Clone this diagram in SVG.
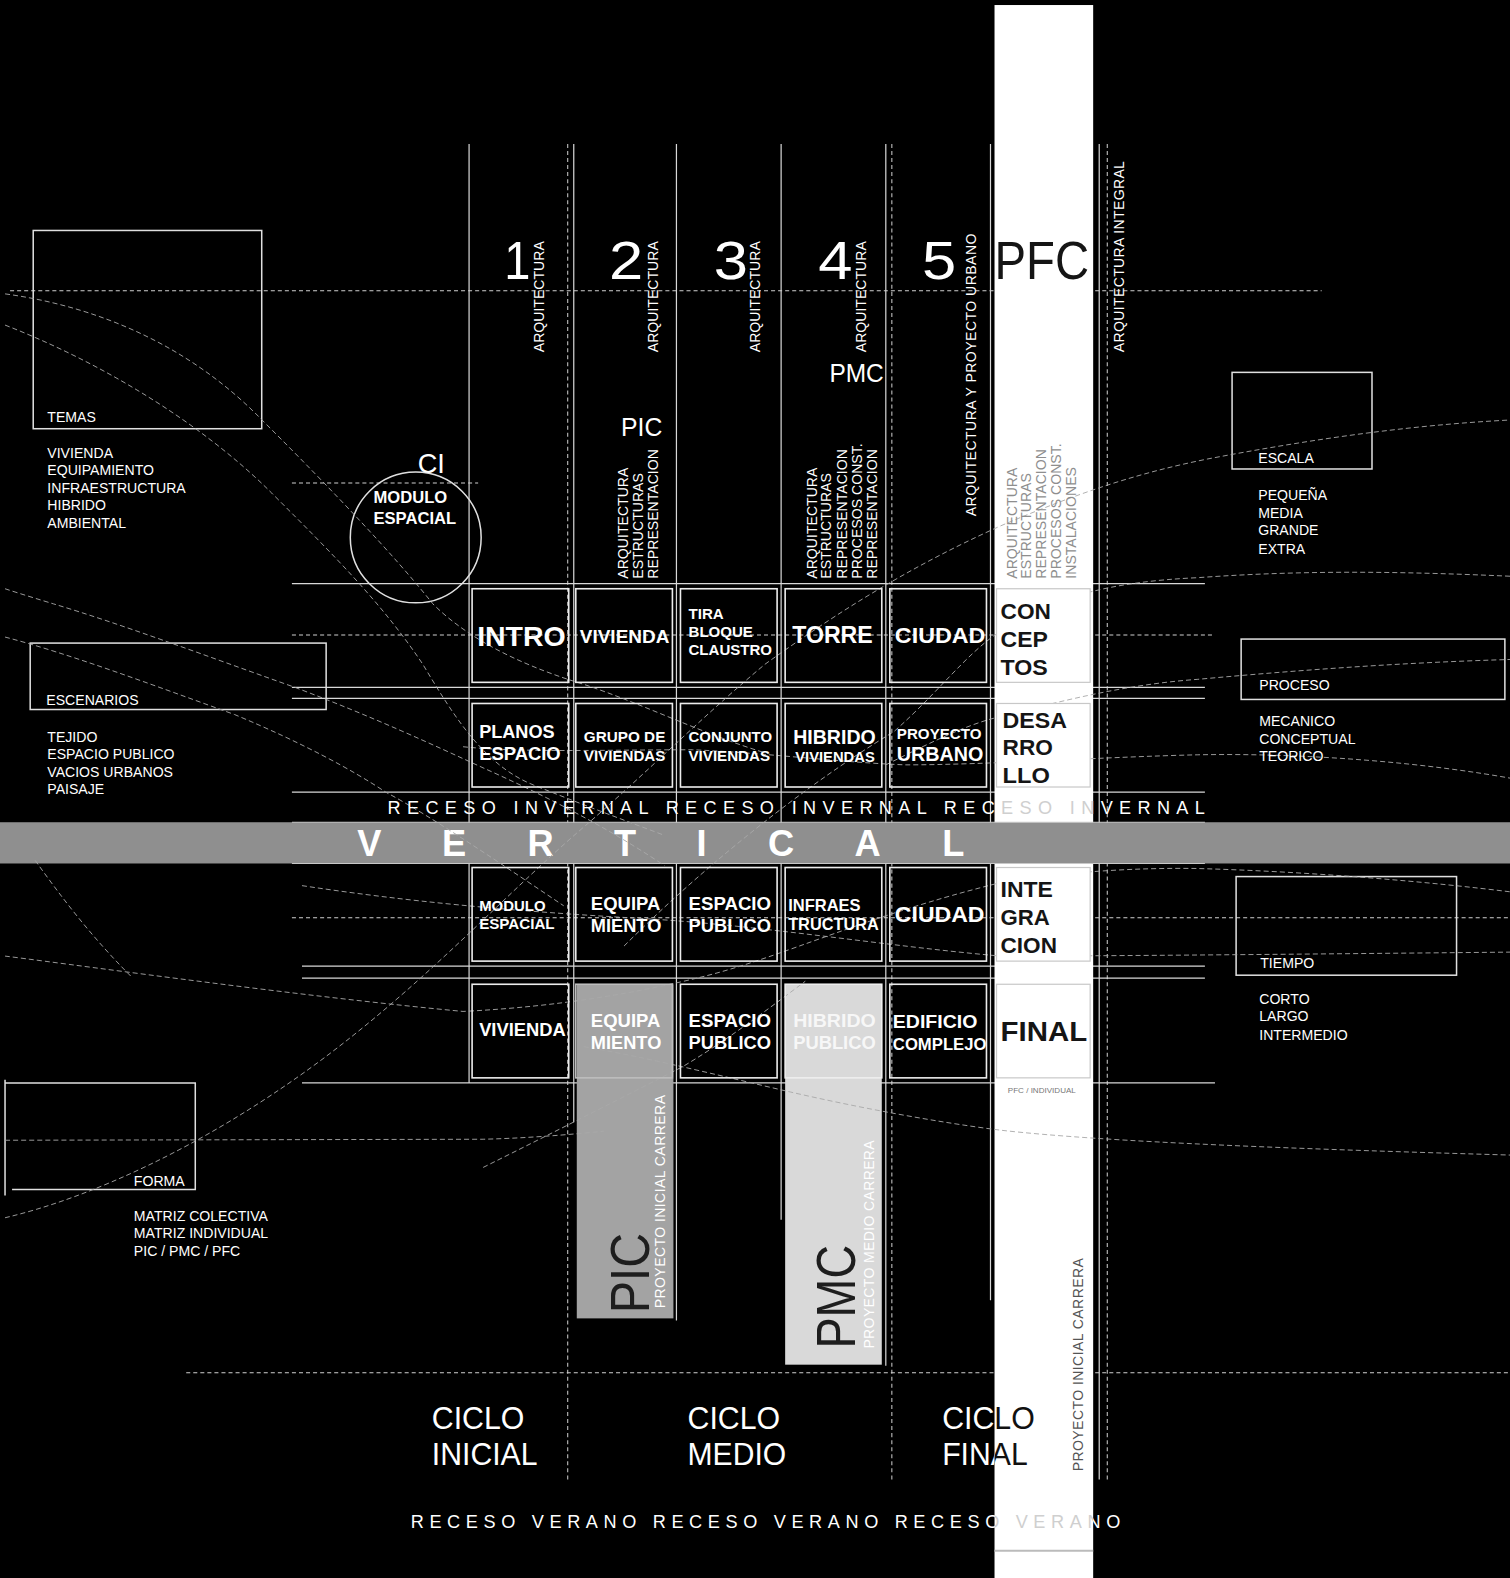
<svg xmlns="http://www.w3.org/2000/svg" width="1510" height="1578" viewBox="0 0 1510 1578">
<defs>
<style>
.t{font-family:"Liberation Sans",Arial,sans-serif;fill:#fff}
.b{font-weight:bold}
.dk{fill:#151515}
.ln{stroke:#d8d8d8;stroke-width:1.2;fill:none}
.dl{stroke:#d0d0d0;stroke-width:1;stroke-dasharray:4 3;fill:none}
.cv{stroke:#a8a8a8;stroke-width:0.9;stroke-dasharray:5 3;fill:none}
.box{fill:none;stroke:#ececec;stroke-width:1.6}
.wbox{fill:#fff;stroke:#c8c8c8;stroke-width:1.2}
.fr{fill:none;stroke:#e0e0e0;stroke-width:1.5}
.lst{font-size:14px}
.v{font-size:14px}
</style>
<clipPath id="col"><rect x="988" y="5" width="98" height="1573"/></clipPath>
</defs>
<rect width="1510" height="1578" fill="#000"/>
<g id="diagram" transform="scale(1.0066 1.0064)">

<g id="grid-lines">
<path class="ln" d="M466,143V1076 M570,143V1115 M672,143V1312 M776,143V1212 M880,143V1357 M984,143V1292 M1092,143V1470"/>
<path class="dl" d="M564,143V1470 M886,143V1470 M1100,143V1470"/>
<path class="ln" d="M290,580H1197 M290,683H1197 M290,694H1197 M290,787H1197 M300,960H1197 M300,972H1197 M300,1076H1207"/>
<path class="dl" d="M10,289H1313 M290,480H475 M290,631H1205 M290,912H1510 M185,1364H1500"/>
</g>

<g id="pfc-column">
<rect x="988" y="5" width="98" height="1573" fill="#fff"/>
<line x1="988" y1="1541" x2="1086" y2="1541" stroke="#bbb" stroke-width="2"/>
</g>

<g id="band">
<rect x="0" y="817" width="1510" height="41" fill="#8f8f8f"/>
<path d="M290,817H1197 M290,858H1197" stroke="#c8c8c8" stroke-width="1"/>
<g class="t b" font-size="36" text-anchor="middle">
<text x="367" y="851">V</text><text x="451" y="851">E</text><text x="537" y="851">R</text><text x="621" y="851">T</text><text x="697" y="851">I</text><text x="776" y="851">C</text><text x="862" y="851">A</text><text x="947" y="851">L</text>
</g>
</g>

<g id="bars">
<rect x="573" y="978" width="96" height="332" fill="#a3a3a3"/>
<rect x="780" y="978" width="96" height="378" fill="#d9d9d9"/>
</g>

<g id="left-panels">
<rect class="fr" x="33" y="229" width="227" height="197"/>
<rect class="fr" x="30" y="639" width="294" height="66"/>
<path class="fr" d="M5,1073V1188 M5,1076H194V1182H12"/>
<circle class="fr" cx="413" cy="534" r="65"/>
</g>
<g id="right-panels">
<rect class="fr" x="1224" y="370" width="139" height="96"/>
<rect class="fr" x="1233" y="635" width="262" height="60"/>
<rect class="fr" x="1228" y="871" width="219" height="98"/>
</g>

<g id="curves">
<path class="cv" d="M5,292 C100,305 190,345 260,417 C330,487 390,550 430,600 C470,640 530,665 580,680 C640,700 700,730 760,748"/>
<path class="cv" d="M5,323 C100,360 200,420 270,490 C330,550 380,600 420,660 C450,710 480,760 530,780 C580,800 620,815 660,830"/>
<path class="cv" d="M5,585 C20,590 40,596 53,600 C120,620 200,650 293,683 C370,712 430,740 480,763 C540,790 600,820 660,860"/>
<path class="cv" d="M5,633 C70,650 150,680 233,710 C300,738 350,765 383,787 C430,812 500,860 560,900"/>
<path class="cv" d="M5,1210 C90,1190 200,1140 310,1060 C420,980 500,890 582,820 C640,770 700,710 760,660 C830,610 900,565 993,523 C1070,490 1130,470 1200,456 C1300,437 1400,422 1507,417"/>
<path class="cv" d="M620,940 C700,860 800,780 888,727 C930,690 960,650 990,630 C1040,595 1100,578 1190,574 C1300,566 1400,568 1510,573"/>
<path class="cv" d="M880,760 C920,740 960,720 990,713 C1060,695 1120,680 1190,675 C1300,665 1400,658 1510,655"/>
<path class="cv" d="M460,742 C520,748 600,745 688,745 C760,748 840,758 900,760 C980,760 1100,752 1190,750 C1300,748 1420,758 1510,775"/>
<path class="cv" d="M5,950 C100,962 300,990 460,1005 C560,1000 640,985 700,970 C780,950 860,910 994,877 C1060,866 1130,862 1190,863 C1300,866 1420,876 1507,887"/>
<path class="cv" d="M300,880 C400,895 500,905 644,913 C760,920 880,940 994,950 C1100,950 1300,948 1507,946"/>
<path class="cv" d="M5,1133 L480,1132 C520,1131 560,1128 600,1124"/>
<path class="cv" d="M580,1040 C640,1050 720,1070 785,1085 C850,1100 930,1115 994,1123 C1100,1135 1300,1142 1510,1148"/>
<path class="cv" d="M480,1160 C540,1130 600,1100 678,1060 C720,1035 760,1005 800,975"/>
<path class="cv" d="M35,855 C60,890 90,930 130,970"/>
</g>

<g id="headers">
<g class="t" font-size="54">
<text x="501" y="277" textLength="26" lengthAdjust="spacingAndGlyphs">1</text>
<text x="605" y="277" textLength="34" lengthAdjust="spacingAndGlyphs">2</text>
<text x="709" y="277" textLength="34" lengthAdjust="spacingAndGlyphs">3</text>
<text x="813" y="277" textLength="34" lengthAdjust="spacingAndGlyphs">4</text>
<text x="916" y="277" textLength="34" lengthAdjust="spacingAndGlyphs">5</text>
</g>
<text class="t dk" x="988" y="277" font-size="54" textLength="94" lengthAdjust="spacingAndGlyphs">PFC</text>
<g class="t v">
<text x="540" y="350" transform="rotate(-90 540 350)">ARQUITECTURA</text>
<text x="654" y="350" transform="rotate(-90 654 350)">ARQUITECTURA</text>
<text x="755" y="350" transform="rotate(-90 755 350)">ARQUITECTURA</text>
<text x="860" y="350" transform="rotate(-90 860 350)">ARQUITECTURA</text>
<text x="970" y="513" transform="rotate(-90 970 513)" textLength="281">ARQUITECTURA Y PROYECTO URBANO</text>
<text x="1117" y="350" transform="rotate(-90 1117 350)" textLength="190">ARQUITECTURA INTEGRAL</text>
</g>
<g class="t v" font-size="13.5">
<text x="624" y="575" transform="rotate(-90 624 575)">ARQUITECTURA</text>
<text x="639" y="575" transform="rotate(-90 639 575)">ESTRUCTURAS</text>
<text x="654" y="575" transform="rotate(-90 654 575)">REPRESENTACION</text>
<text x="812" y="575" transform="rotate(-90 812 575)">ARQUITECTURA</text>
<text x="826" y="575" transform="rotate(-90 826 575)">ESTRUCTURAS</text>
<text x="841" y="575" transform="rotate(-90 841 575)">REPRESENTACION</text>
<text x="856" y="575" transform="rotate(-90 856 575)">PROCESOS CONST.</text>
<text x="871" y="575" transform="rotate(-90 871 575)">REPRESENTACION</text>
</g>
<g class="t v" font-size="13.5" style="fill:#8e8e8e">
<text x="1010" y="575" transform="rotate(-90 1010 575)">ARQUITECTURA</text>
<text x="1024" y="575" transform="rotate(-90 1024 575)">ESTRUCTURAS</text>
<text x="1039" y="575" transform="rotate(-90 1039 575)">REPRESENTACION</text>
<text x="1054" y="575" transform="rotate(-90 1054 575)">PROCESOS CONST.</text>
<text x="1069" y="575" transform="rotate(-90 1069 575)">INSTALACIONES</text>
</g>
<text class="t" x="824" y="380" font-size="26" textLength="54" lengthAdjust="spacingAndGlyphs">PMC</text>
<text class="t" x="617" y="433" font-size="26" textLength="41" lengthAdjust="spacingAndGlyphs">PIC</text>
<text class="t" x="415" y="470" font-size="28" textLength="27" lengthAdjust="spacingAndGlyphs">CI</text>
<text class="t b" x="371" y="500" font-size="16.5">MODULO</text>
<text class="t b" x="371" y="521" font-size="16.5">ESPACIAL</text>
</g>

<g id="left-text" class="t lst">
<text x="47" y="419">TEMAS</text>
<text x="47" y="455">VIVIENDA</text>
<text x="47" y="472">EQUIPAMIENTO</text>
<text x="47" y="490">INFRAESTRUCTURA</text>
<text x="47" y="507">HIBRIDO</text>
<text x="47" y="525">AMBIENTAL</text>
<text x="46" y="701">ESCENARIOS</text>
<text x="47" y="737">TEJIDO</text>
<text x="47" y="754">ESPACIO PUBLICO</text>
<text x="47" y="772">VACIOS URBANOS</text>
<text x="47" y="789">PAISAJE</text>
<text x="133" y="1178">FORMA</text>
<text x="133" y="1213">MATRIZ COLECTIVA</text>
<text x="133" y="1230">MATRIZ INDIVIDUAL</text>
<text x="133" y="1248">PIC / PMC / PFC</text>
</g>
<g id="right-text" class="t lst">
<text x="1250" y="460">ESCALA</text>
<text x="1250" y="497">PEQUEÑA</text>
<text x="1250" y="515">MEDIA</text>
<text x="1250" y="532">GRANDE</text>
<text x="1250" y="550">EXTRA</text>
<text x="1251" y="686">PROCESO</text>
<text x="1251" y="721">MECANICO</text>
<text x="1251" y="739">CONCEPTUAL</text>
<text x="1251" y="756">TEORICO</text>
<text x="1252" y="962">TIEMPO</text>
<text x="1251" y="998">CORTO</text>
<text x="1251" y="1015">LARGO</text>
<text x="1251" y="1033">INTERMEDIO</text>
</g>

<g id="row1">
<rect class="box" x="469" y="585" width="96" height="93"/>
<rect class="box" x="572" y="585" width="96" height="93"/>
<rect class="box" x="676" y="585" width="96" height="93"/>
<rect class="box" x="780" y="585" width="96" height="93"/>
<rect class="box" x="884" y="585" width="96" height="93"/>
<rect class="wbox" x="990" y="585" width="93" height="93"/>
<text class="t b" x="474" y="642" font-size="28" textLength="88" lengthAdjust="spacingAndGlyphs">INTRO</text>
<text class="t b" x="576" y="639" font-size="18" textLength="89" lengthAdjust="spacingAndGlyphs">VIVIENDA</text>
<text class="t b" x="684" y="615" font-size="15" textLength="35" lengthAdjust="spacingAndGlyphs">TIRA</text>
<text class="t b" x="684" y="633" font-size="15" textLength="64" lengthAdjust="spacingAndGlyphs">BLOQUE</text>
<text class="t b" x="684" y="651" font-size="15" textLength="83" lengthAdjust="spacingAndGlyphs">CLAUSTRO</text>
<text class="t b" x="787" y="639" font-size="24" textLength="80" lengthAdjust="spacingAndGlyphs">TORRE</text>
<text class="t b" x="889" y="639" font-size="22" textLength="90" lengthAdjust="spacingAndGlyphs">CIUDAD</text>
<text class="t b dk" x="994" y="615" font-size="22" textLength="50" lengthAdjust="spacingAndGlyphs">CON</text>
<text class="t b dk" x="994" y="643" font-size="22" textLength="47" lengthAdjust="spacingAndGlyphs">CEP</text>
<text class="t b dk" x="994" y="671" font-size="22" textLength="47" lengthAdjust="spacingAndGlyphs">TOS</text>
</g>

<g id="row2">
<rect class="box" x="469" y="699" width="96" height="83"/>
<rect class="box" x="572" y="699" width="96" height="83"/>
<rect class="box" x="676" y="699" width="96" height="83"/>
<rect class="box" x="780" y="699" width="96" height="83"/>
<rect class="box" x="884" y="699" width="96" height="83"/>
<rect class="wbox" x="990" y="699" width="93" height="83"/>
<text class="t b" x="476" y="733" font-size="18" textLength="75" lengthAdjust="spacingAndGlyphs">PLANOS</text>
<text class="t b" x="476" y="755" font-size="18" textLength="81" lengthAdjust="spacingAndGlyphs">ESPACIO</text>
<text class="t b" x="580" y="737" font-size="15" textLength="81" lengthAdjust="spacingAndGlyphs">GRUPO DE</text>
<text class="t b" x="580" y="756" font-size="15" textLength="81" lengthAdjust="spacingAndGlyphs">VIVIENDAS</text>
<text class="t b" x="684" y="737" font-size="15" textLength="83" lengthAdjust="spacingAndGlyphs">CONJUNTO</text>
<text class="t b" x="684" y="756" font-size="15" textLength="81" lengthAdjust="spacingAndGlyphs">VIVIENDAS</text>
<text class="t b" x="788" y="739" font-size="20" textLength="82" lengthAdjust="spacingAndGlyphs">HIBRIDO</text>
<text class="t b" x="790" y="757" font-size="15" textLength="79" lengthAdjust="spacingAndGlyphs">VIVIENDAS</text>
<text class="t b" x="891" y="734" font-size="15" textLength="84" lengthAdjust="spacingAndGlyphs">PROYECTO</text>
<text class="t b" x="891" y="756" font-size="20" textLength="86" lengthAdjust="spacingAndGlyphs">URBANO</text>
<text class="t b dk" x="996" y="723" font-size="22" textLength="64" lengthAdjust="spacingAndGlyphs">DESA</text>
<text class="t b dk" x="996" y="750" font-size="22" textLength="50" lengthAdjust="spacingAndGlyphs">RRO</text>
<text class="t b dk" x="996" y="778" font-size="22" textLength="47" lengthAdjust="spacingAndGlyphs">LLO</text>
</g>

<g id="receso-invernal">
<text class="t" x="385" y="809" font-size="18" textLength="812" lengthAdjust="spacing">RECESO INVERNAL RECESO INVERNAL RECESO INVERNAL</text>
<text class="t" x="385" y="809" font-size="18" textLength="812" lengthAdjust="spacing" clip-path="url(#col)" style="fill:#cfcfcf">RECESO INVERNAL RECESO INVERNAL RECESO INVERNAL</text>
</g>

<g id="row3">
<rect class="box" x="469" y="862" width="96" height="93"/>
<rect class="box" x="572" y="862" width="96" height="93"/>
<rect class="box" x="676" y="862" width="96" height="93"/>
<rect class="box" x="780" y="862" width="96" height="93"/>
<rect class="box" x="884" y="862" width="96" height="93"/>
<rect class="wbox" x="990" y="862" width="93" height="93"/>
<text class="t b" x="476" y="905" font-size="15" textLength="66" lengthAdjust="spacingAndGlyphs">MODULO</text>
<text class="t b" x="476" y="923" font-size="15" textLength="75" lengthAdjust="spacingAndGlyphs">ESPACIAL</text>
<text class="t b" x="587" y="904" font-size="18" textLength="69" lengthAdjust="spacingAndGlyphs">EQUIPA</text>
<text class="t b" x="587" y="926" font-size="18" textLength="70" lengthAdjust="spacingAndGlyphs">MIENTO</text>
<text class="t b" x="684" y="904" font-size="18" textLength="82" lengthAdjust="spacingAndGlyphs">ESPACIO</text>
<text class="t b" x="684" y="926" font-size="18" textLength="82" lengthAdjust="spacingAndGlyphs">PUBLICO</text>
<text class="t b" x="783" y="905" font-size="16" textLength="72" lengthAdjust="spacingAndGlyphs">INFRAES</text>
<text class="t b" x="783" y="924" font-size="16" textLength="90" lengthAdjust="spacingAndGlyphs">TRUCTURA</text>
<text class="t b" x="889" y="916" font-size="22" textLength="89" lengthAdjust="spacingAndGlyphs">CIUDAD</text>
<text class="t b dk" x="994" y="891" font-size="22" textLength="52" lengthAdjust="spacingAndGlyphs">INTE</text>
<text class="t b dk" x="994" y="919" font-size="22" textLength="49" lengthAdjust="spacingAndGlyphs">GRA</text>
<text class="t b dk" x="994" y="947" font-size="22" textLength="56" lengthAdjust="spacingAndGlyphs">CION</text>
</g>

<g id="row4">
<rect class="box" x="469" y="978" width="96" height="93"/>
<rect class="box" x="572" y="978" width="96" height="93" style="stroke:#bdbdbd"/>
<rect class="box" x="676" y="978" width="96" height="93"/>
<rect class="box" x="780" y="978" width="96" height="93" style="stroke:#eeeeee"/>
<rect class="box" x="884" y="978" width="96" height="93"/>
<rect class="wbox" x="990" y="978" width="93" height="93"/>
<text class="t b" x="476" y="1029" font-size="18" textLength="86" lengthAdjust="spacingAndGlyphs">VIVIENDA</text>
<text class="t b" x="587" y="1020" font-size="18" textLength="69" lengthAdjust="spacingAndGlyphs">EQUIPA</text>
<text class="t b" x="587" y="1042" font-size="18" textLength="70" lengthAdjust="spacingAndGlyphs">MIENTO</text>
<text class="t b" x="684" y="1020" font-size="18" textLength="82" lengthAdjust="spacingAndGlyphs">ESPACIO</text>
<text class="t b" x="684" y="1042" font-size="18" textLength="82" lengthAdjust="spacingAndGlyphs">PUBLICO</text>
<text class="t b" x="788" y="1020" font-size="18" textLength="82" lengthAdjust="spacingAndGlyphs" style="fill:#f7f7f7">HIBRIDO</text>
<text class="t b" x="788" y="1042" font-size="18" textLength="82" lengthAdjust="spacingAndGlyphs" style="fill:#f7f7f7">PUBLICO</text>
<text class="t b" x="887" y="1021" font-size="19" textLength="84" lengthAdjust="spacingAndGlyphs">EDIFICIO</text>
<text class="t b" x="887" y="1043" font-size="16" textLength="93" lengthAdjust="spacingAndGlyphs">COMPLEJO</text>
<text class="t b dk" x="994" y="1034" font-size="28" textLength="86" lengthAdjust="spacingAndGlyphs">FINAL</text>
<text class="t" x="1035" y="1086" font-size="8" text-anchor="middle" style="fill:#777">PFC / INDIVIDUAL</text>
</g>

<g id="bar-labels">
<text class="t" x="645" y="1305" font-size="56" textLength="80" lengthAdjust="spacingAndGlyphs" transform="rotate(-90 645 1305)" style="fill:#1e1e1e">PIC</text>
<text class="t" x="661" y="1300" font-size="14" textLength="212" transform="rotate(-90 661 1300)">PROYECTO INICIAL CARRERA</text>
<text class="t" x="849" y="1340" font-size="56" textLength="103" lengthAdjust="spacingAndGlyphs" transform="rotate(-90 849 1340)" style="fill:#1e1e1e">PMC</text>
<text class="t" x="868" y="1340" font-size="14" textLength="207" transform="rotate(-90 868 1340)">PROYECTO MEDIO CARRERA</text>
<text class="t" x="1076" y="1462" font-size="14" textLength="212" transform="rotate(-90 1076 1462)" style="fill:#555">PROYECTO INICIAL CARRERA</text>
</g>

<g id="ciclos">
<g class="t" font-size="32">
<text x="429" y="1420" textLength="92" lengthAdjust="spacingAndGlyphs">CICLO</text>
<text x="429" y="1456" textLength="105" lengthAdjust="spacingAndGlyphs">INICIAL</text>
<text x="683" y="1420" textLength="92" lengthAdjust="spacingAndGlyphs">CICLO</text>
<text x="683" y="1456" textLength="98" lengthAdjust="spacingAndGlyphs">MEDIO</text>
<text x="936" y="1420" textLength="92" lengthAdjust="spacingAndGlyphs">CICLO</text>
<text x="936" y="1456" textLength="85" lengthAdjust="spacingAndGlyphs">FINAL</text>
</g>
<g class="t" font-size="32" clip-path="url(#col)" style="fill:#111">
<text x="936" y="1420" textLength="92" lengthAdjust="spacingAndGlyphs">CICLO</text>
<text x="936" y="1456" textLength="85" lengthAdjust="spacingAndGlyphs">FINAL</text>
</g>
<text class="t" x="408" y="1518" font-size="18" textLength="705" lengthAdjust="spacing">RECESO VERANO RECESO VERANO RECESO VERANO</text>
<text class="t" x="408" y="1518" font-size="18" textLength="705" lengthAdjust="spacing" clip-path="url(#col)" style="fill:#cfcfcf">RECESO VERANO RECESO VERANO RECESO VERANO</text>
</g>
</g>
</svg>
